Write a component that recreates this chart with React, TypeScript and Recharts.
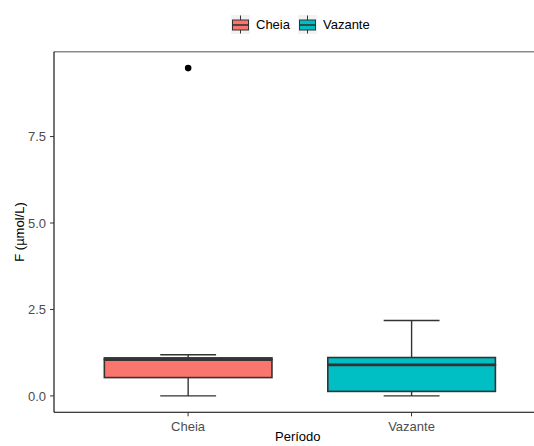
import React from 'react';
import { ComposedChart, Bar, XAxis, YAxis, Label, ReferenceLine } from 'recharts';

// ---- data ----
const categories = ['Cheia', 'Vazante'];
const mins = [0, 0];
const q1s = [0.53, 0.13];
const medians = [1.05, 0.9];
const q3s = [1.1, 1.11];
const maxs = [1.19, 2.18];
const outliers: (number | null)[] = [9.48, null];
const colors = ['#F8766D', '#00BFC4'];
const yTicks = [0, 2.5, 5, 7.5];
const yDomain: [number, number] = [-0.474, 9.954];
const xTitle = 'Período';
const yTitle = 'F (µmol/L)';

const data = categories.map((name, i) => ({
  name,
  base: mins[i],
  lowWhisker: q1s[i] - mins[i],
  lowBox: medians[i] - q1s[i],
  highBox: q3s[i] - medians[i],
  highWhisker: maxs[i] - q3s[i],
  outlierGap: outliers[i] == null ? 0 : (outliers[i] as number) - maxs[i],
  color: colors[i],
}));

const FONT = '"Liberation Sans", Arial, Helvetica, sans-serif';
const BOX_STROKE = '#333333';

const EmptyShape = () => null;

const LowWhiskerShape = (p: any) => {
  const { x, y, width, height } = p;
  if (x == null || !isFinite(y) || !isFinite(height)) return null;
  const cx = x + width / 2;
  const capW = width / 3;
  const yb = y + height;
  return (
    <g>
      <line x1={cx} x2={cx} y1={y} y2={yb} stroke={BOX_STROKE} strokeWidth={1.4} />
      <line x1={cx - capW / 2} x2={cx + capW / 2} y1={yb} y2={yb} stroke={BOX_STROKE} strokeWidth={1.4} />
    </g>
  );
};

const HighWhiskerShape = (p: any) => {
  const { x, y, width, height } = p;
  if (x == null || !isFinite(y) || !isFinite(height)) return null;
  const cx = x + width / 2;
  const capW = width / 3;
  return (
    <g>
      <line x1={cx} x2={cx} y1={y} y2={y + height} stroke={BOX_STROKE} strokeWidth={1.4} />
      <line x1={cx - capW / 2} x2={cx + capW / 2} y1={y} y2={y} stroke={BOX_STROKE} strokeWidth={1.4} />
    </g>
  );
};

const LowBoxShape = (p: any) => {
  const { x, y, width, height, payload } = p;
  if (x == null || !isFinite(y) || !isFinite(height)) return null;
  return (
    <rect x={x} y={y} width={width} height={height} fill={payload.color} stroke={BOX_STROKE} strokeWidth={1.6} />
  );
};

const HighBoxShape = (p: any) => {
  const { x, y, width, height, payload } = p;
  if (x == null || !isFinite(y) || !isFinite(height)) return null;
  const yb = y + height;
  return (
    <g>
      <rect x={x} y={y} width={width} height={height} fill={payload.color} stroke={BOX_STROKE} strokeWidth={1.6} />
      <line x1={x} x2={x + width} y1={yb} y2={yb} stroke={BOX_STROKE} strokeWidth={2.8} />
    </g>
  );
};

const OutlierShape = (p: any) => {
  const { x, y, width, value } = p;
  const v = Array.isArray(value) ? value[1] - value[0] : value;
  if (x == null || !isFinite(y) || !v) return null;
  return <circle cx={x + width / 2} cy={y} r={3.3} fill="#000" />;
};

const renderYTitle = (props: any) => {
  const vb = props.viewBox || {};
  const cx = (vb.x || 0) + 24;
  const cy = (vb.y || 0) + (vb.height || 0) / 2;
  return (
    <text x={cx} y={cy} transform={`rotate(-90, ${cx}, ${cy})`} textAnchor="middle" fontFamily={FONT} fontSize={13} fill="#000">
      {yTitle}
    </text>
  );
};

const renderXTitle = (props: any) => {
  const vb = props.viewBox || {};
  const cx = (vb.x || 0) + (vb.width || 0) / 2 - 2;
  const cy = (vb.y || 0) + 28.7;
  return (
    <text x={cx} y={cy} textAnchor="middle" fontFamily={FONT} fontSize={13} fill="#000">
      {xTitle}
    </text>
  );
};

const LegendKey = ({ color }: { color: string }) => (
  <svg width={19} height={19} style={{ display: 'block' }}>
    <rect x={0} y={0} width={19} height={19} fill="#F2F2F2" />
    <line x1={9.5} x2={9.5} y1={0.5} y2={5} stroke={BOX_STROKE} strokeWidth={1} />
    <line x1={9.5} x2={9.5} y1={15} y2={18.5} stroke={BOX_STROKE} strokeWidth={1} />
    <rect x={1.5} y={5} width={16} height={10} fill={color} stroke={BOX_STROKE} strokeWidth={1} />
    <line x1={1.5} x2={17.5} y1={10} y2={10} stroke={BOX_STROKE} strokeWidth={1.6} />
  </svg>
);

export default function App() {
  return (
    <div style={{ position: 'absolute', left: 0, top: 0, width: 534, height: 446, overflow: 'hidden', background: '#fff' }}>
      <div
        style={{
          position: 'absolute',
          left: 231,
          top: 15,
          height: 19,
          display: 'flex',
          alignItems: 'center',
          fontFamily: FONT,
          fontSize: 13,
          color: '#000',
          whiteSpace: 'nowrap',
        }}
      >
        {categories.map((c, i) => (
          <div key={c} style={{ display: 'flex', alignItems: 'center', marginRight: 8 }}>
            <LegendKey color={colors[i]} />
            <span style={{ marginLeft: 6 }}>{c}</span>
          </div>
        ))}
      </div>
      <ComposedChart
        width={560}
        height={446}
        data={data}
        margin={{ top: 51.7, right: 14.4, bottom: 0, left: 0 }}
        barCategoryGap={0}
      >
        <XAxis
          dataKey="name"
          type="category"
          padding={{ left: 22.35, right: 22.35 }}
          height={33.7}
          tickSize={4}
          tickMargin={5}
          axisLine={{ stroke: '#000', strokeWidth: 1.1 }}
          tickLine={{ stroke: '#333', strokeWidth: 1 }}
          tick={{ fill: '#4d4d4d', fontSize: 13, fontFamily: FONT }}
          interval={0}
        >
          <Label content={renderXTitle} />
        </XAxis>
        <YAxis
          type="number"
          domain={yDomain}
          ticks={yTicks}
          allowDataOverflow
          width={54}
          tickSize={4}
          tickMargin={4}
          tickFormatter={(v: number) => v.toFixed(1)}
          axisLine={{ stroke: '#000', strokeWidth: 1.1 }}
          tickLine={{ stroke: '#333', strokeWidth: 1 }}
          tick={{ fill: '#4d4d4d', fontSize: 13, fontFamily: FONT }}
        >
          <Label content={renderYTitle} />
        </YAxis>
        <ReferenceLine y={yDomain[1]} stroke="#8a8a8a" strokeWidth={1.6} ifOverflow="visible" />
        <Bar dataKey="base" stackId="box" barSize={167.6} shape={EmptyShape} isAnimationActive={false} />
        <Bar dataKey="lowWhisker" stackId="box" barSize={167.6} shape={LowWhiskerShape} isAnimationActive={false} />
        <Bar dataKey="lowBox" stackId="box" barSize={167.6} shape={LowBoxShape} isAnimationActive={false} />
        <Bar dataKey="highBox" stackId="box" barSize={167.6} shape={HighBoxShape} isAnimationActive={false} />
        <Bar dataKey="highWhisker" stackId="box" barSize={167.6} shape={HighWhiskerShape} isAnimationActive={false} />
        <Bar dataKey="outlierGap" stackId="box" barSize={167.6} shape={OutlierShape} isAnimationActive={false} />
      </ComposedChart>
    </div>
  );
}
